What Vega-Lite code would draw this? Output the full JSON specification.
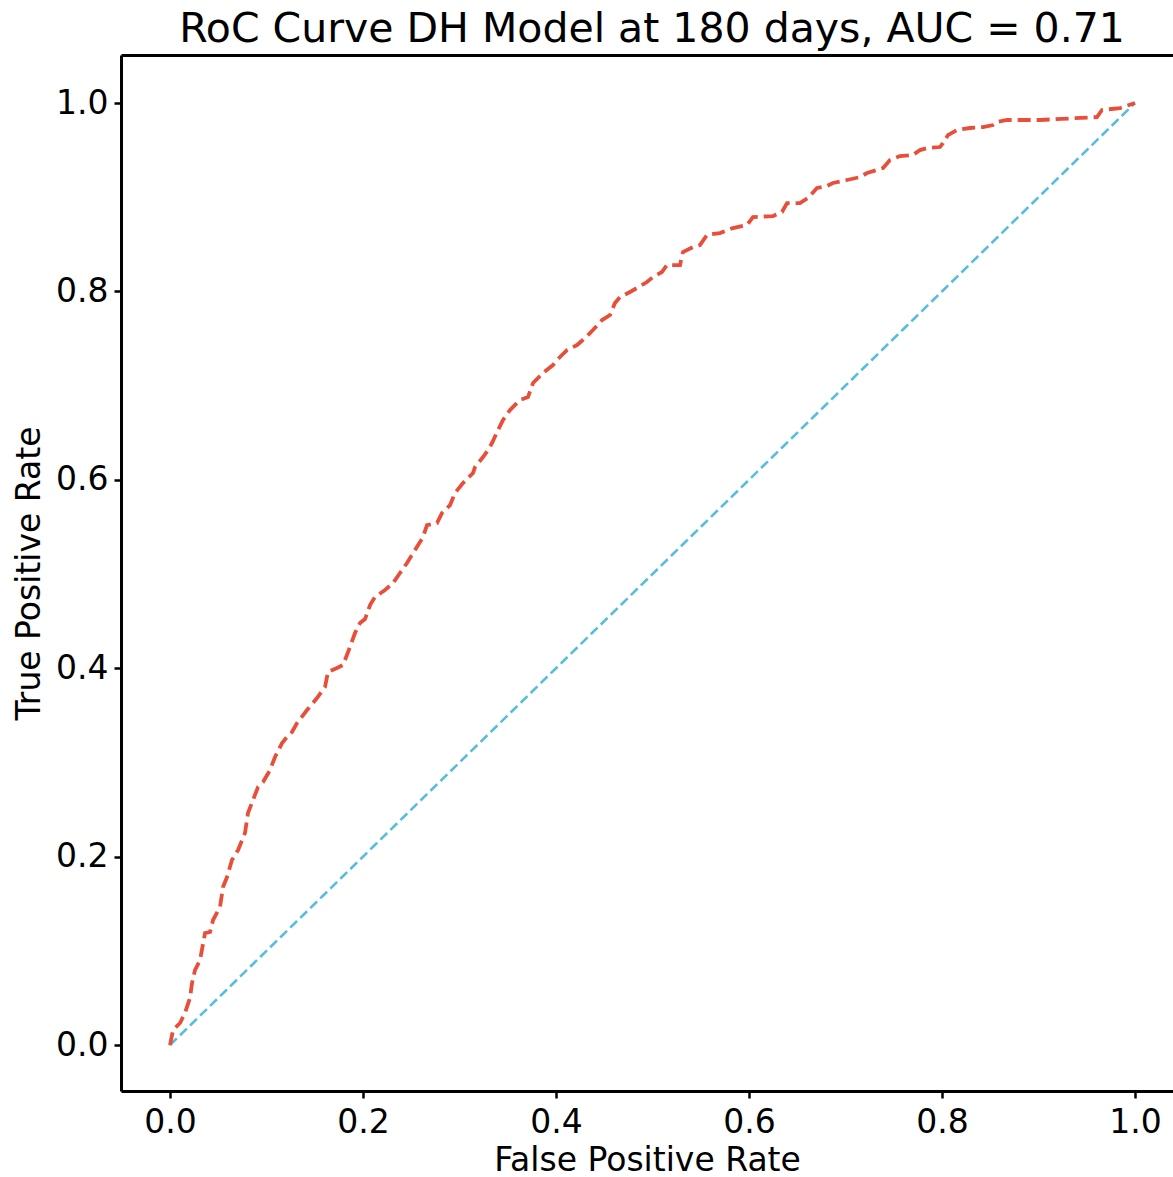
{
  "$schema": "https://vega.github.io/schema/vega-lite/v6.json",
  "autosize": "none",
  "width": 1052,
  "height": 1036,
  "padding": {"left": 121, "top": 55, "right": 0, "bottom": 86},
  "background": "white",
  "config": {
    "view": {"stroke": null},
    "font": "DejaVu Sans",
    "axis": {
      "grid": false,
      "domainColor": "black",
      "domainWidth": 3,
      "tickColor": "black",
      "tickWidth": 2.5,
      "tickSize": 7,
      "labelFont": "DejaVu Sans",
      "labelFontSize": 33,
      "labelColor": "black",
      "titleFont": "DejaVu Sans",
      "titleFontSize": 33,
      "titleFontWeight": "normal",
      "titleColor": "black"
    }
  },
  "title": {
    "text": "RoC Curve DH Model at 180 days, AUC = 0.71",
    "font": "DejaVu Sans",
    "fontSize": 41,
    "fontWeight": "normal",
    "color": "black",
    "anchor": "middle",
    "baseline": "alphabetic",
    "offset": -28,
    "dx": 5
  },
  "data": {
    "values": [
      {"series": "model", "fpr": 0.0, "tpr": 0.0},
      {"series": "model", "fpr": 0.0031, "tpr": 0.0159},
      {"series": "model", "fpr": 0.0104, "tpr": 0.0234},
      {"series": "model", "fpr": 0.0155, "tpr": 0.034},
      {"series": "model", "fpr": 0.0207, "tpr": 0.0499},
      {"series": "model", "fpr": 0.0228, "tpr": 0.0658},
      {"series": "model", "fpr": 0.0259, "tpr": 0.0796},
      {"series": "model", "fpr": 0.0311, "tpr": 0.0902},
      {"series": "model", "fpr": 0.0363, "tpr": 0.1189},
      {"series": "model", "fpr": 0.0415, "tpr": 0.12},
      {"series": "model", "fpr": 0.0446, "tpr": 0.1327},
      {"series": "model", "fpr": 0.0518, "tpr": 0.1465},
      {"series": "model", "fpr": 0.0549, "tpr": 0.1677},
      {"series": "model", "fpr": 0.0591, "tpr": 0.1783},
      {"series": "model", "fpr": 0.0642, "tpr": 0.1964},
      {"series": "model", "fpr": 0.0705, "tpr": 0.207},
      {"series": "model", "fpr": 0.0777, "tpr": 0.2251},
      {"series": "model", "fpr": 0.0808, "tpr": 0.2463},
      {"series": "model", "fpr": 0.086, "tpr": 0.2601},
      {"series": "model", "fpr": 0.0912, "tpr": 0.2739},
      {"series": "model", "fpr": 0.0964, "tpr": 0.2792},
      {"series": "model", "fpr": 0.1036, "tpr": 0.2919},
      {"series": "model", "fpr": 0.1088, "tpr": 0.3057},
      {"series": "model", "fpr": 0.1161, "tpr": 0.3206},
      {"series": "model", "fpr": 0.1212, "tpr": 0.327},
      {"series": "model", "fpr": 0.1264, "tpr": 0.3323},
      {"series": "model", "fpr": 0.1316, "tpr": 0.3418},
      {"series": "model", "fpr": 0.142, "tpr": 0.3556},
      {"series": "model", "fpr": 0.1523, "tpr": 0.3684},
      {"series": "model", "fpr": 0.1606, "tpr": 0.38},
      {"series": "model", "fpr": 0.1637, "tpr": 0.396},
      {"series": "model", "fpr": 0.1731, "tpr": 0.4002},
      {"series": "model", "fpr": 0.1793, "tpr": 0.4034},
      {"series": "model", "fpr": 0.1865, "tpr": 0.4225},
      {"series": "model", "fpr": 0.1917, "tpr": 0.4374},
      {"series": "model", "fpr": 0.1969, "tpr": 0.448},
      {"series": "model", "fpr": 0.2021, "tpr": 0.4522},
      {"series": "model", "fpr": 0.2073, "tpr": 0.4671},
      {"series": "model", "fpr": 0.2124, "tpr": 0.4756},
      {"series": "model", "fpr": 0.2228, "tpr": 0.483},
      {"series": "model", "fpr": 0.2311, "tpr": 0.4904},
      {"series": "model", "fpr": 0.2383, "tpr": 0.5011},
      {"series": "model", "fpr": 0.2456, "tpr": 0.5117},
      {"series": "model", "fpr": 0.2539, "tpr": 0.5255},
      {"series": "model", "fpr": 0.2622, "tpr": 0.5393},
      {"series": "model", "fpr": 0.2663, "tpr": 0.552},
      {"series": "model", "fpr": 0.2767, "tpr": 0.5541},
      {"series": "model", "fpr": 0.2819, "tpr": 0.5648},
      {"series": "model", "fpr": 0.2902, "tpr": 0.5732},
      {"series": "model", "fpr": 0.2953, "tpr": 0.586},
      {"series": "model", "fpr": 0.3036, "tpr": 0.5966},
      {"series": "model", "fpr": 0.314, "tpr": 0.6072},
      {"series": "model", "fpr": 0.3161, "tpr": 0.6136},
      {"series": "model", "fpr": 0.3244, "tpr": 0.6242},
      {"series": "model", "fpr": 0.3295, "tpr": 0.6316},
      {"series": "model", "fpr": 0.3337, "tpr": 0.6391},
      {"series": "model", "fpr": 0.3389, "tpr": 0.6507},
      {"series": "model", "fpr": 0.3451, "tpr": 0.6635},
      {"series": "model", "fpr": 0.3523, "tpr": 0.6741},
      {"series": "model", "fpr": 0.3627, "tpr": 0.6847},
      {"series": "model", "fpr": 0.371, "tpr": 0.6879},
      {"series": "model", "fpr": 0.3762, "tpr": 0.7028},
      {"series": "model", "fpr": 0.3865, "tpr": 0.7134},
      {"series": "model", "fpr": 0.3969, "tpr": 0.7219},
      {"series": "model", "fpr": 0.4041, "tpr": 0.7304},
      {"series": "model", "fpr": 0.4114, "tpr": 0.7378},
      {"series": "model", "fpr": 0.4218, "tpr": 0.7431},
      {"series": "model", "fpr": 0.4301, "tpr": 0.7505},
      {"series": "model", "fpr": 0.4383, "tpr": 0.759},
      {"series": "model", "fpr": 0.4477, "tpr": 0.7696},
      {"series": "model", "fpr": 0.456, "tpr": 0.7749},
      {"series": "model", "fpr": 0.4611, "tpr": 0.7877},
      {"series": "model", "fpr": 0.4663, "tpr": 0.7941},
      {"series": "model", "fpr": 0.4767, "tpr": 0.7994},
      {"series": "model", "fpr": 0.4839, "tpr": 0.8036},
      {"series": "model", "fpr": 0.4943, "tpr": 0.81},
      {"series": "model", "fpr": 0.5005, "tpr": 0.8153},
      {"series": "model", "fpr": 0.5098, "tpr": 0.8206},
      {"series": "model", "fpr": 0.515, "tpr": 0.828},
      {"series": "model", "fpr": 0.5285, "tpr": 0.828},
      {"series": "model", "fpr": 0.5316, "tpr": 0.8418},
      {"series": "model", "fpr": 0.542, "tpr": 0.8471},
      {"series": "model", "fpr": 0.5492, "tpr": 0.8493},
      {"series": "model", "fpr": 0.5565, "tpr": 0.8599},
      {"series": "model", "fpr": 0.5699, "tpr": 0.862},
      {"series": "model", "fpr": 0.5834, "tpr": 0.8673},
      {"series": "model", "fpr": 0.5979, "tpr": 0.8705},
      {"series": "model", "fpr": 0.6041, "tpr": 0.879},
      {"series": "model", "fpr": 0.6249, "tpr": 0.88},
      {"series": "model", "fpr": 0.6342, "tpr": 0.8843},
      {"series": "model", "fpr": 0.6394, "tpr": 0.8938},
      {"series": "model", "fpr": 0.6528, "tpr": 0.8938},
      {"series": "model", "fpr": 0.6611, "tpr": 0.8992},
      {"series": "model", "fpr": 0.6705, "tpr": 0.9098},
      {"series": "model", "fpr": 0.6808, "tpr": 0.9119},
      {"series": "model", "fpr": 0.687, "tpr": 0.9151},
      {"series": "model", "fpr": 0.7016, "tpr": 0.9183},
      {"series": "model", "fpr": 0.715, "tpr": 0.9214},
      {"series": "model", "fpr": 0.7223, "tpr": 0.9257},
      {"series": "model", "fpr": 0.7326, "tpr": 0.9289},
      {"series": "model", "fpr": 0.7389, "tpr": 0.931},
      {"series": "model", "fpr": 0.7461, "tpr": 0.9395},
      {"series": "model", "fpr": 0.7565, "tpr": 0.9437},
      {"series": "model", "fpr": 0.7699, "tpr": 0.9448},
      {"series": "model", "fpr": 0.7772, "tpr": 0.9501},
      {"series": "model", "fpr": 0.7845, "tpr": 0.9522},
      {"series": "model", "fpr": 0.7979, "tpr": 0.9533},
      {"series": "model", "fpr": 0.801, "tpr": 0.9575},
      {"series": "model", "fpr": 0.8062, "tpr": 0.966},
      {"series": "model", "fpr": 0.8155, "tpr": 0.9713},
      {"series": "model", "fpr": 0.829, "tpr": 0.9735},
      {"series": "model", "fpr": 0.8425, "tpr": 0.9745},
      {"series": "model", "fpr": 0.8528, "tpr": 0.9766},
      {"series": "model", "fpr": 0.857, "tpr": 0.9798},
      {"series": "model", "fpr": 0.8674, "tpr": 0.982},
      {"series": "model", "fpr": 0.9016, "tpr": 0.982},
      {"series": "model", "fpr": 0.9606, "tpr": 0.9851},
      {"series": "model", "fpr": 0.9658, "tpr": 0.9926},
      {"series": "model", "fpr": 0.9845, "tpr": 0.9947},
      {"series": "model", "fpr": 1.0, "tpr": 1.0},
      {"series": "chance", "fpr": 0.0, "tpr": 0.0},
      {"series": "chance", "fpr": 1.0, "tpr": 1.0}
    ]
  },
  "layer": [
    {
      "transform": [{"filter": "datum.series === 'chance'"}],
      "mark": {"type": "line", "color": "#56bedc", "strokeWidth": 2.6, "strokeDash": [9.5, 4.5], "clip": true},
      "encoding": {
        "x": {"field": "fpr", "type": "quantitative", "scale": {"domain": [-0.0508, 1.0394], "nice": false, "zero": false},
              "axis": {"orient": "top", "labels": false, "ticks": false, "title": null, "domain": true, "minExtent": 0, "maxExtent": 0, "labelPadding": 0, "tickSize": 0}},
        "y": {"field": "tpr", "type": "quantitative", "scale": {"domain": [-0.0488, 1.051], "nice": false, "zero": false},
              "axis": {"values": [0, 0.2, 0.4, 0.6, 0.8, 1.0], "format": ".1f", "title": "True Positive Rate", "labelPadding": 6, "titlePadding": 9}},
        "order": {"field": "fpr", "type": "quantitative"}
      }
    },
    {
      "transform": [{"filter": "datum.series === 'model'"}],
      "mark": {"type": "line", "color": "#e84f3a", "strokeWidth": 3.8, "strokeDash": [13, 6], "clip": true},
      "encoding": {
        "x": {"field": "fpr", "type": "quantitative",
              "axis": {"orient": "bottom", "values": [0, 0.2, 0.4, 0.6, 0.8, 1.0], "format": ".1f", "title": "False Positive Rate", "labelPadding": 8, "titlePadding": 5}},
        "y": {"field": "tpr", "type": "quantitative"},
        "order": {"field": "fpr", "type": "quantitative"}
      }
    }
  ]
}
